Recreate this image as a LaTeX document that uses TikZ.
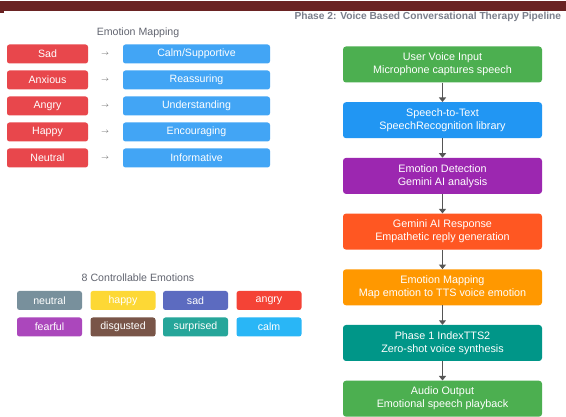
\documentclass[tikz,border=0pt]{standalone}
\usepackage{fontspec}
\setmainfont{Liberation Sans}
\usetikzlibrary{positioning,arrows.meta}

\definecolor{topbar}{HTML}{6A2323}
\definecolor{headgray}{HTML}{7A7F8C}
\definecolor{mapred}{HTML}{E8474C}
\definecolor{mapblue}{HTML}{42A5F5}
\definecolor{arrowgray}{HTML}{555555}

\tikzset{
  emobox/.style={rounded corners=2.5pt, text=white, inner sep=0pt,
    minimum height=19pt, font=\fontsize{10.6}{12}\selectfont},
  pipebox/.style={rounded corners=3pt, text=white, inner sep=0pt, align=center,
    minimum width=199pt, minimum height=36pt, font=\fontsize{10.8}{13}\selectfont},
  pipearrow/.style={draw=arrowgray, line width=1.5pt, -{Triangle[length=4.5pt,width=7pt]}},
  paneltitle/.style={text=headgray!80!black, font=\fontsize{10.6}{12}\selectfont}
}

\begin{document}
\begin{tikzpicture}[x=1pt,y=-1pt]
\useasboundingbox (0,0) rectangle (566,417);
\fill[white] (0,0) rectangle (566,417);

% top bar and header
\fill[topbar] (0,1) rectangle (566,11);
\fill[topbar] (0,11) rectangle (4,13);
\node[anchor=west, text=headgray, font=\fontsize{10.2}{12}\selectfont\bfseries] (header) at (291,16.5)
  {Phase 2: Voice Based Conversational Therapy Pipeline};

% emotion mapping
\node[paneltitle] (maptitle) at (138,33) {Emotion Mapping};
\foreach \emo/\tone [count=\i] in {Sad/{Calm/Supportive}, Anxious/Reassuring, Angry/Understanding,
    Happy/Encouraging, Neutral/Informative}{
  \node[emobox, fill=mapred, minimum width=81pt] (emo\i) at (47.5,{28+26*\i}) {\emo};
  \node[text=arrowgray, font=\fontsize{7}{8}\selectfont] (to\i) at (105,{28+26*\i}) {$\rightarrow$};
  \node[emobox, fill=mapblue, minimum width=147pt] (tone\i) at (196.5,{28+26*\i}) {\tone};
}

% 8 controllable emotions
\node[paneltitle] (ctrltitle) at (138,278) {8 Controllable Emotions};
\foreach \lbl/\col/\x/\y in {neutral/78909C/49.5/300.5, happy/FDD835/123/300.5,
    sad/5C6BC0/195.5/300.5, angry/F44336/269/300.5,
    fearful/AB47BC/49.5/327, disgusted/795548/123/327,
    surprised/26A69A/195.5/327, calm/29B6F6/269/327}{
  \definecolor{boxcol}{HTML}{\col}
  \node[emobox, fill=boxcol, minimum width=65pt] (\lbl) at (\x,\y) {\lbl};
}

% pipeline
\begin{scope}[node distance=19.3pt]
\node[pipebox, fill={rgb,255:red,76;green,175;blue,80}] (input) at (442.5,64.5)
  {User Voice Input\\Microphone captures speech};
\node[pipebox, fill={rgb,255:red,33;green,150;blue,243}, below=of input] (stt)
  {Speech-to-Text\\SpeechRecognition library};
\node[pipebox, fill={rgb,255:red,156;green,39;blue,176}, below=of stt] (detect)
  {Emotion Detection\\Gemini AI analysis};
\node[pipebox, fill={rgb,255:red,255;green,87;blue,34}, below=of detect] (reply)
  {Gemini AI Response\\Empathetic reply generation};
\node[pipebox, fill={rgb,255:red,255;green,152;blue,0}, below=of reply] (mapping)
  {Emotion Mapping\\Map emotion to TTS voice emotion};
\node[pipebox, fill={rgb,255:red,0;green,150;blue,136}, below=of mapping] (tts)
  {Phase 1 IndexTTS2\\Zero-shot voice synthesis};
\node[pipebox, fill={rgb,255:red,76;green,175;blue,80}, below=of tts] (output)
  {Audio Output\\Emotional speech playback};
\end{scope}

\draw[pipearrow] (input) -- (stt);
\draw[pipearrow] (stt) -- (detect);
\draw[pipearrow] (detect) -- (reply);
\draw[pipearrow] (reply) -- (mapping);
\draw[pipearrow] (mapping) -- (tts);
\draw[pipearrow] (tts) -- (output);
\end{tikzpicture}
\end{document}
